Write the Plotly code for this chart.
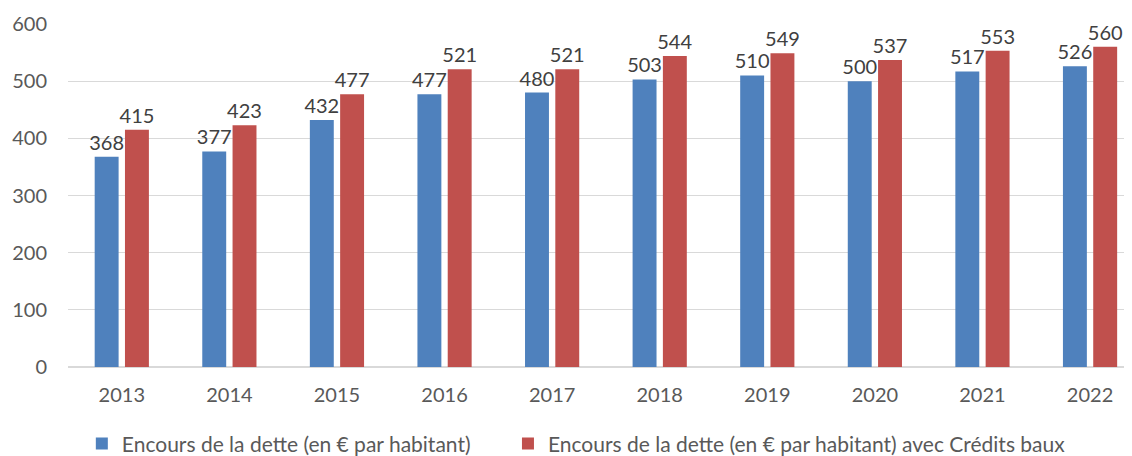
import plotly.graph_objects as go

years = ["2013", "2014", "2015", "2016", "2017", "2018", "2019", "2020", "2021", "2022"]
dette = [368, 377, 432, 477, 480, 503, 510, 500, 517, 526]
dette_credits = [415, 423, 477, 521, 521, 544, 549, 537, 553, 560]

name1 = "Encours de la dette (en € par habitant)"
name2 = "Encours de la dette (en € par habitant) avec Crédits baux"

font_family = "Lato, 'Open Sans', sans-serif"

fig = go.Figure()
fig.add_trace(go.Bar(
    x=years, y=dette, name=name1, legend="legend",
    marker=dict(color="#4F81BD", line=dict(width=0)),
    text=[str(v) for v in dette], textposition="outside",
    textfont=dict(size=20, color="#404040", family=font_family),
    constraintext="none", cliponaxis=False,
))
fig.add_trace(go.Bar(
    x=years, y=dette_credits, name=name2, legend="legend2",
    marker=dict(color="#C0504D", line=dict(width=0)),
    text=[str(v) for v in dette_credits], textposition="outside",
    textfont=dict(size=20, color="#404040", family=font_family),
    constraintext="none", cliponaxis=False,
))

legend_common = dict(orientation="h", xanchor="left", yref="container", y=0.027,
                     yanchor="middle", font=dict(size=21, color="#595959"),
                     bgcolor="rgba(0,0,0,0)")

fig.update_layout(
    width=1124, height=448,
    margin=dict(l=60, r=0, t=16, b=89, autoexpand=False),
    barmode="group", bargap=0.437, bargroupgap=0.21,
    plot_bgcolor="white", paper_bgcolor="white",
    font=dict(family=font_family, size=20, color="#595959"),
    showlegend=True,
    legend=dict(x=0.013, **legend_common),
    legend2=dict(x=0.4135, **legend_common),
    xaxis=dict(showgrid=False, showline=False, ticks="", tickfont=dict(size=20),
               range=[-0.5, 9.39], ticklabelstandoff=14),
    yaxis=dict(range=[0, 600], dtick=100, showgrid=True, gridcolor="#D9D9D9",
               gridwidth=1, zeroline=True, zerolinecolor="#D9D9D9", zerolinewidth=2,
               showline=False, ticks="", tickfont=dict(size=20), ticklabelstandoff=20),
)

fig.write_html("out.html")
